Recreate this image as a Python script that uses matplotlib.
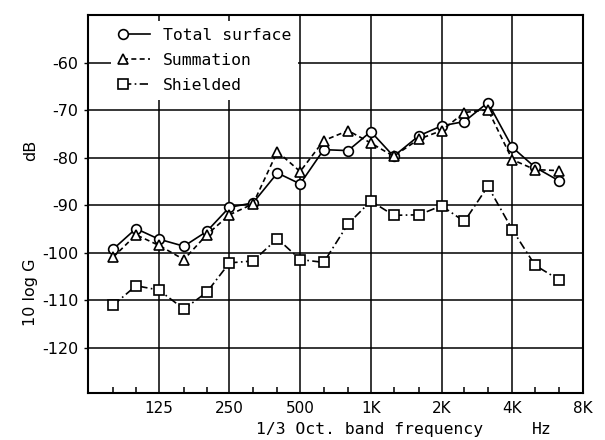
import matplotlib
matplotlib.use("Agg")
import matplotlib.pyplot as plt
from matplotlib.lines import Line2D
from matplotlib.legend_handler import HandlerLine2D
from matplotlib.ticker import FixedLocator, NullFormatter

plt.rcParams['axes.unicode_minus'] = False

# 1/3 octave band centre frequencies (Hz)
freqs = [80, 100, 125, 160, 200, 250, 315, 400, 500, 630,
         800, 1000, 1250, 1600, 2000, 2500, 3150, 4000, 5000, 6300]

# 10 log G (dB)
total = [-99.2, -94.9, -97.1, -98.6, -95.5, -90.4, -89.5, -83.2, -85.5, -78.3,
         -78.5, -74.5, -79.7, -75.4, -73.3, -72.4, -68.4, -77.8, -82.0, -84.8]
summation = [-100.9, -96.2, -98.4, -101.4, -96.2, -92.0, -89.7, -78.7, -82.9, -76.4,
             -74.3, -76.9, -79.7, -76.1, -74.3, -70.5, -69.9, -80.4, -82.5, -82.7]
shielded = [-111.0, -106.9, -107.8, -111.8, -108.3, -102.1, -101.7, -97.0, -101.4, -102.0,
            -93.9, -89.1, -92.1, -92.0, -90.1, -93.4, -86.0, -95.1, -102.6, -105.6]

xtick_vals = [125, 250, 500, 1000, 2000, 4000, 8000]
xtick_labels = ["125", "250", "500", "1K", "2K", "4K", "8K"]
minor_vals = [80, 100, 160, 200, 315, 400, 630, 800, 1250, 1600, 2500, 3150, 5000, 6300]
ytick_vals = [-60, -70, -80, -90, -100, -110, -120]

mono = "DejaVu Sans Mono"


# legend entry drawn as "marker ----" (marker at the start of the line)
class MarkerFirst(HandlerLine2D):
    def create_artists(self, legend, orig_handle, xdescent, ydescent,
                       width, height, fontsize, trans):
        arts = super().create_artists(legend, orig_handle, xdescent, ydescent,
                                      width, height, fontsize, trans)
        for a in arts:
            a.set_markevery([0])
        return arts


fig = plt.figure(figsize=(6.05, 4.40), dpi=100)
ax = fig.add_axes([0.1455, 0.1068, 0.8181, 0.8591])

mk = dict(markersize=7, markerfacecolor="white", markeredgecolor="black",
          markeredgewidth=1.2, color="black", linewidth=1.2, zorder=3)
styles = ["-", (0, (3, 2)), (0, (5, 2, 1, 2))]
ax.plot(freqs, total, marker="o", linestyle=styles[0], **mk)
ax.plot(freqs, summation, marker="^", linestyle=styles[1], **mk)
ax.plot(freqs, shielded, marker="s", linestyle=styles[2], **mk)

ax.set_xscale("log", base=2)
ax.set_xlim(62.5, 8000)
ax.set_ylim(-129.45, -50)

ax.xaxis.set_major_locator(FixedLocator(xtick_vals))
ax.set_xticklabels(xtick_labels, fontsize=11)
ax.xaxis.set_minor_locator(FixedLocator(minor_vals))
ax.xaxis.set_minor_formatter(NullFormatter())
ax.tick_params(axis="x", which="major", length=0, pad=6)
ax.tick_params(axis="x", which="minor", direction="in", length=4, width=1.1)

ax.set_yticks(ytick_vals)
ax.tick_params(axis="y", which="major", direction="out", length=3, width=1.0,
               labelsize=11.5, pad=4)

ax.grid(True, which="major", color="black", linewidth=1.1, zorder=1)
for sp in ax.spines.values():
    sp.set_linewidth(1.5)

handles = [Line2D([0, 1], [0, 0], marker=m, linestyle=s, **mk)
           for m, s in zip(["o", "^", "s"], styles)]
leg = ax.legend(handles, ["Total surface", "Summation", "Shielded"],
                loc="upper left", bbox_to_anchor=(0.040, 0.992),
                numpoints=2, handlelength=2.3, handletextpad=0.45,
                labelspacing=0.62, borderaxespad=0.2,
                handler_map={Line2D: MarkerFirst()},
                frameon=True, fancybox=False, framealpha=1.0,
                prop={"family": mono, "size": 11.8})
leg.get_frame().set_edgecolor("none")
leg.get_frame().set_facecolor("white")
leg.set_zorder(5)

fig.text(0.611, 0.025, "1/3 Oct. band frequency", family=mono, fontsize=11.8,
         ha="center", va="center")
fig.text(0.896, 0.025, "Hz", family=mono, fontsize=11.8, ha="center", va="center")
fig.text(0.051, 0.336, "10 log G", fontsize=11.5, rotation=90, ha="center", va="center")
fig.text(0.051, 0.659, "dB", fontsize=11.5, rotation=90, ha="center", va="center")

fig.savefig("out.png", dpi=100)
